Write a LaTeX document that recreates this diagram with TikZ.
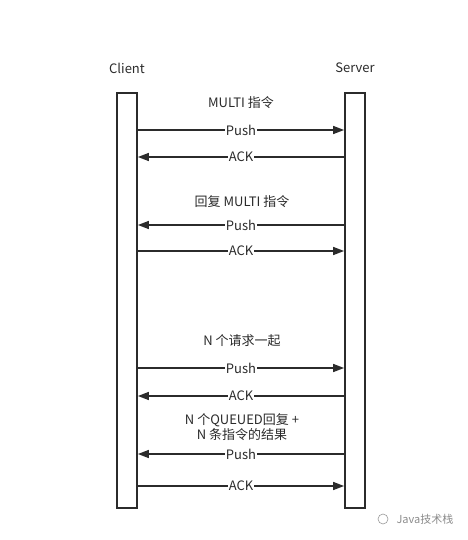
\documentclass[tikz,border=0pt]{standalone}
\usepackage{fontspec}
\setmainfont{Noto Sans CJK SC}
\usetikzlibrary{arrows.meta}
\definecolor{ink}{HTML}{2B2B2B}
\tikzset{
  bar/.style={draw=ink, line width=1.8pt, fill=white},
  msg/.style={draw=ink, line width=1.5pt, -{Triangle[length=11pt,width=8pt]}},
  lbl/.style={fill=white, inner sep=1pt, text=ink, font=\fontsize{13}{14}\selectfont},
  note/.style={text=ink, font=\fontsize{13}{15}\selectfont, align=center},
  head/.style={text=ink, font=\fontsize{13}{14}\selectfont}
}
\begin{document}
\begin{tikzpicture}[x=1pt,y=-1pt]
\useasboundingbox (0,0) rectangle (467,540);
\fill[white] (0,0) rectangle (467,540);
% lifelines
\node[bar, minimum width=20pt, minimum height=415pt, inner sep=0pt, anchor=north] (C) at (127,92) {};
\node[bar, minimum width=20pt, minimum height=415pt, inner sep=0pt, anchor=north] (S) at (355,92) {};
\node[head] (cl) at (127,68) {Client};
\node[head] (sl) at (355,68) {Server};
% coordinates on bar edges
\foreach \n/\y in {a/130,b/157,c/225,d/251,e/368,f/396,g/454,h/486}{
  \coordinate (L\n) at (C.east |- 0,\y);
  \coordinate (R\n) at (S.west |- 0,\y);
}
% notes
\node[note] (n1) at (241,103) {MULTI 指令};
\node[note] (n2) at (242,202) {回复 MULTI 指令};
\node[note] (n3) at (242,341) {N 个请求一起};
\node[note] (n4) at (242,427) {N 个QUEUED回复 +\\N 条指令的结果};
% messages
\draw[msg] (La) -- node[lbl] (m1) {Push} (Ra);
\draw[msg] (Rb) -- node[lbl] (m2) {ACK} (Lb);
\draw[msg] (Rc) -- node[lbl] (m3) {Push} (Lc);
\draw[msg] (Ld) -- node[lbl] (m4) {ACK} (Rd);
\draw[msg] (Le) -- node[lbl] (m5) {Push} (Re);
\draw[msg] (Rf) -- node[lbl] (m6) {ACK} (Lf);
\draw[msg] (Rg) -- node[lbl] (m7) {Push} (Lg);
\draw[msg] (Lh) -- node[lbl] (m8) {ACK} (Rh);
% watermark
\node[text=black!45, font=\fontsize{11}{12}\selectfont, anchor=west] (wm) at (393,519) {Java技术栈};
\draw[black!40, line width=0.6pt] (383,519) circle (5pt);
\end{tikzpicture}
\end{document}
